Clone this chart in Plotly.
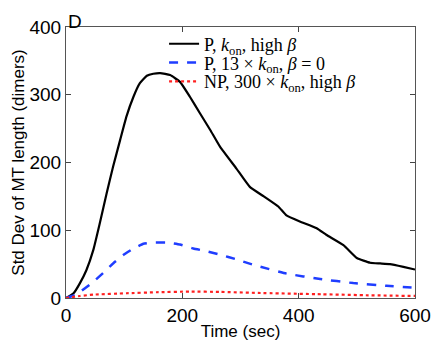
import plotly.graph_objects as go

# Panel D: std dev of MT length over time
t_p = [0, 13, 24, 35, 47, 58, 70, 81, 93, 104, 116, 127, 139, 150, 162, 179, 196, 213,
       230, 248, 265, 293, 316, 340, 365, 379, 402, 431, 448, 477, 500, 523, 540, 557, 580, 600]
sd_p = [0, 7, 22, 41, 71, 110, 155, 194, 233, 268, 297, 317, 328, 331, 332, 329, 319, 297,
        273, 248, 223, 191, 164, 150, 135, 122, 113, 103, 93, 78, 59, 52, 51, 50, 46, 42]

t_p13 = [0, 18, 47, 64, 81, 98, 116, 133, 150, 173, 196, 219, 242, 265, 293, 322, 379, 437, 494, 551, 600]
sd_p13 = [0, 5, 24, 37, 51, 63, 73, 80, 82, 82, 79, 73, 69, 64, 57, 49, 36, 28, 22, 18, 15]

t_np = [0, 24, 47, 104, 156, 213, 265, 330, 440, 520, 600]
sd_np = [0, 3, 5, 7, 8.5, 9.5, 9, 7.5, 5.5, 4, 3]

names = ["P, <i>k</i><sub>on</sub>, high <i>β</i>",
         "P, 13 × <i>k</i><sub>on</sub>, <i>β</i> = 0",
         "NP, 300 × <i>k</i><sub>on</sub>, high <i>β</i>"]

fig = go.Figure()
fig.add_trace(go.Scatter(x=t_p, y=sd_p, mode="lines", name=names[0], legend="legend",
                         line=dict(color="black", width=2.2, shape="spline", smoothing=0.4)))
fig.add_trace(go.Scatter(x=t_p13, y=sd_p13, mode="lines", name=names[1], legend="legend2",
                         line=dict(color="#1f3dff", width=2.5, dash="dash", shape="spline", smoothing=0.3)))
fig.add_trace(go.Scatter(x=t_np, y=sd_np, mode="lines", name=names[2], legend="legend3",
                         line=dict(color="#ff2020", width=2.2, dash="dot", shape="spline", smoothing=0.3)))

axis_font = dict(family="Liberation Sans, Arial, sans-serif", size=19, color="black")
title_font = dict(family="Liberation Sans, Arial, sans-serif", size=17, color="black")
fig.update_xaxes(range=[0, 600], tickvals=[0, 200, 400, 600], ticks="inside", ticklen=5,
                 mirror="ticks", showline=True, linecolor="#555", linewidth=1,
                 showgrid=False, zeroline=False, tickfont=axis_font, automargin=False,
                 title=dict(text="Time (sec)", font=title_font, standoff=0))
fig.update_yaxes(range=[0, 400], tickvals=[0, 100, 200, 300, 400], ticks="inside", ticklen=5,
                 mirror="ticks", showline=True, linecolor="#555", linewidth=1,
                 showgrid=False, zeroline=False, tickfont=axis_font, automargin=False,
                 title=dict(text="Std Dev of MT length (dimers)", font=title_font, standoff=0))

fig.add_annotation(text="D", xref="paper", yref="paper", x=0.0, y=1.0, xanchor="left", yanchor="bottom",
                   showarrow=False, yshift=-7,
                   font=dict(family="Liberation Sans, Arial", size=19, color="black"))

# one legend per entry so the line spacing can match the reference
leg = dict(x=0.281, xanchor="left", yanchor="middle", bgcolor="rgba(0,0,0,0)",
           font=dict(family="Liberation Serif, DejaVu Serif, serif", size=18, color="black"),
           itemwidth=30)

fig.update_layout(
    width=436, height=347,
    margin=dict(l=66, r=21, t=27, b=49),
    paper_bgcolor="white", plot_bgcolor="white",
    showlegend=True,
    legend=dict(leg, y=0.937),
    legend2=dict(leg, y=0.868),
    legend3=dict(leg, y=0.798),
)

# drop the default body margin so the figure fills the window
fig.write_html("out.html", config={"displayModeBar": False},
               post_script="document.body.style.margin='0';document.body.style.overflow='hidden';")
